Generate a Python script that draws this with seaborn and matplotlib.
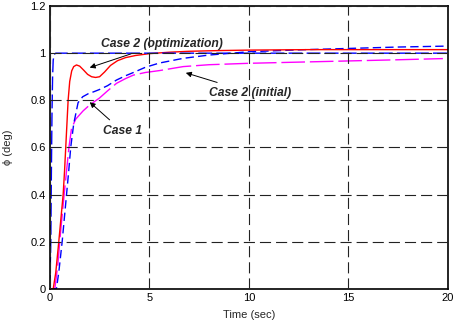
import matplotlib
matplotlib.use("Agg")
import matplotlib.pyplot as plt
import seaborn as sns

# reference command (blue dashed)
t_ref = [0, 0.05, 0.08, 0.11, 0.14, 0.17, 0.22, 0.3, 20]
y_ref = [0, 0.2, 0.5, 0.75, 0.9, 0.97, 0.995, 1.0, 1.0]

# Case 2 (optimization), red solid
t_opt = [0, 0.17, 0.3, 0.45, 0.56, 0.67, 0.74, 0.8, 0.86, 0.92, 1.0, 1.1, 1.2, 1.34, 1.5,
         1.7, 1.9, 2.1, 2.3, 2.5, 2.75, 3.05, 3.4, 3.8, 4.3, 5.0, 6.0, 7.0, 8.5, 10, 13, 16, 20]
y_opt = [0, 0.0, 0.07, 0.2, 0.3, 0.4, 0.5, 0.6, 0.7, 0.8, 0.88, 0.925, 0.943, 0.95, 0.945,
         0.928, 0.91, 0.9, 0.897, 0.9, 0.92, 0.948, 0.968, 0.981, 0.99, 0.998, 1.004, 1.008, 1.011,
         1.013, 1.015, 1.015, 1.015]

# Case 1, blue dashed
t_c1 = [0, 0.33, 0.45, 0.62, 0.73, 0.84, 0.95, 1.05, 1.2, 1.42, 1.65, 1.93, 2.2, 2.5, 2.9,
        3.35, 3.8, 4.2, 4.8, 5.5, 6.7, 8.0, 10, 12.5, 15, 17.5, 20]
y_c1 = [0, 0.0, 0.07, 0.2, 0.3, 0.4, 0.5, 0.6, 0.7, 0.79, 0.815, 0.828, 0.836, 0.846, 0.862,
        0.886, 0.904, 0.918, 0.94, 0.958, 0.978, 0.992, 1.006, 1.014, 1.02, 1.026, 1.03]

# Case 2 (initial), magenta long dash
t_c2 = [0, 0.25, 0.4, 0.55, 0.72, 0.84, 0.96, 1.09, 1.3, 1.67, 2.0, 2.5, 2.9, 3.35, 3.8,
        4.2, 4.8, 5.5, 6.7, 8.0, 10, 12.5, 15, 17.5, 19.75]
y_c2 = [0, 0.0, 0.1, 0.25, 0.4, 0.5, 0.6, 0.68, 0.72, 0.755, 0.78, 0.81, 0.84, 0.872, 0.892,
        0.907, 0.918, 0.926, 0.943, 0.951, 0.957, 0.962, 0.967, 0.972, 0.977]

x_ticks = [0, 5, 10, 15, 20]
y_ticks = [0, 0.2, 0.4, 0.6, 0.8, 1.0, 1.2]
y_tick_labels = ["0", "0.2", "0.4", "0.6", "0.8", "1", "1.2"]

sns.set_style("white")
plt.rcParams["font.family"] = ["Liberation Sans", "DejaVu Sans"]

fig = plt.figure(figsize=(4.57, 3.25), dpi=100)
ax = fig.add_axes([0.109, 0.111, 0.871, 0.8705])

sns.lineplot(x=t_c2, y=y_c2, ax=ax, color="#ff00ff", linestyle=(0, (17, 3.5)), linewidth=1.0, sort=False)
sns.lineplot(x=t_c1, y=y_c1, ax=ax, color="#0000ff", linestyle=(0, (6, 3)), linewidth=1.0, sort=False)
sns.lineplot(x=t_opt, y=y_opt, ax=ax, color="#ff0000", linestyle="-", linewidth=1.0, sort=False)
sns.lineplot(x=t_ref, y=y_ref, ax=ax, color="#0000ff", linestyle=(0, (10, 3)), linewidth=1.0, sort=False)

ax.set_xlim(0, 20)
ax.set_ylim(0, 1.2)
ax.set_xticks(x_ticks)
ax.set_xticklabels([str(v) for v in x_ticks])
ax.set_yticks(y_ticks)
ax.set_yticklabels(y_tick_labels)
ax.grid(True, color="#222222", linestyle=(0, (10, 4.5)), linewidth=0.8)
ax.set_axisbelow(False)
for s in ax.spines.values():
    s.set_color("black")
    s.set_linewidth(1.2)
ax.tick_params(direction="in", length=3, labelsize=8, colors="black", pad=3)
ax.set_xlabel("Time (sec)", fontsize=8, labelpad=5)
ax.set_ylabel("ϕ (deg)", fontsize=8, labelpad=12)

font = dict(fontsize=8.7, fontweight="bold", fontstyle="italic")
arrow = dict(arrowstyle="-|>", color="black", lw=0.7, mutation_scale=8)
ax.annotate("Case 2 (optimization)", xy=(1.87, 0.935), xytext=(2.55, 1.04),
            ha="left", va="center", arrowprops=arrow, **font)
ax.annotate("Case 1", xy=(1.9, 0.80), xytext=(2.65, 0.67),
            ha="left", va="center", arrowprops=arrow, **font)
ax.annotate("Case 2 (initial)", xy=(6.7, 0.92), xytext=(8.0, 0.833),
            ha="left", va="center", arrowprops=arrow, **font)

fig.savefig("out.png", dpi=100)
